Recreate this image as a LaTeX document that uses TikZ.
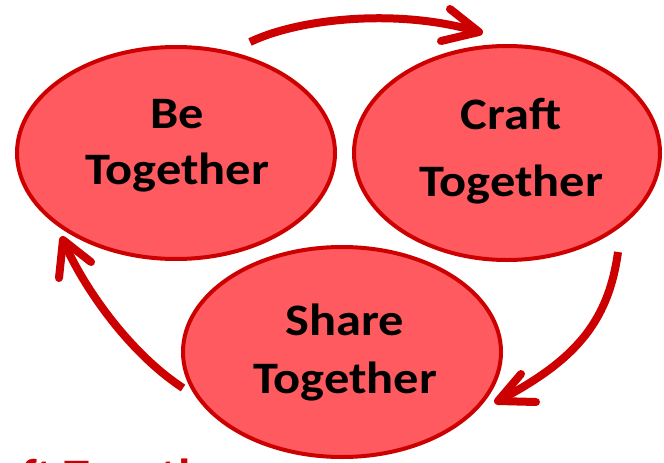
\documentclass[tikz,border=0pt]{standalone}
\usepackage{fontspec}
\setmainfont{Carlito}
\usetikzlibrary{shapes.geometric}
\definecolor{darkred}{HTML}{CC0000}
\definecolor{pinkred}{HTML}{FF5A5F}
\tikzset{
  blob/.style={ellipse, draw=darkred, fill=pinkred, line width=4pt, inner sep=0pt},
  lbl/.style={anchor=base, font=\bfseries\fontsize{45}{45}\selectfont, text=black, inner sep=0pt, xscale=1.12, transform shape},
  flow/.style={draw=darkred, line width=8pt},
  chev/.style={draw=darkred, line width=8pt, line cap=round, line join=round},
}
\begin{document}
\begin{tikzpicture}[x=1pt, y=-1pt]
\useasboundingbox (0,0) rectangle (664,463);
\clip (0,0) rectangle (664,463);
\fill[white] (0,0) rectangle (664,463);
% ellipses
\node[blob, minimum width=318pt, minimum height=212pt] (be) at (176,153) {};
\node[blob, minimum width=306pt, minimum height=214pt] (craft) at (507,153) {};
\node[blob, minimum width=318pt, minimum height=210pt] (share) at (342,352) {};
% labels
\node[lbl] (be1) at (177,128) {Be};
\node[lbl] (be2) at (177,184) {Together};
\node[lbl] (cr1) at (511,129) {Craft};
\node[lbl] (cr2) at (511,196) {Together};
\node[lbl] (sh1) at (345,335) {Share};
\node[lbl] (sh2) at (345,393) {Together};
% arrow coordinates
\coordinate (a1s) at (250,42);
\coordinate (a1e) at (479,32);
\coordinate (a1b) at (450,9);
\coordinate (a1c) at (441,41);
\coordinate (a2s) at (618,252);
\coordinate (a2e) at (498,401);
\coordinate (a2b) at (521,374);
\coordinate (a2c) at (536,402);
\coordinate (a3s) at (183,388);
\coordinate (a3e) at (63,240);
\coordinate (a3b) at (59,278);
\coordinate (a3c) at (91,262);
\draw[flow] (a1s) .. controls (300,18) and (400,8) .. (a1e);
\draw[chev] (a1b) -- (a1e) -- (a1c);
\draw[flow] (a2s) .. controls (608,325) and (572,362) .. (a2e);
\draw[chev] (a2b) -- (a2e) -- (a2c);
\draw[flow] (a3s) .. controls (128,352) and (82,285) .. (a3e);
\draw[chev] (a3b) -- (a3e) -- (a3c);
% clipped caption
\node[anchor=base west, font=\bfseries\fontsize{45}{45}\selectfont, text=darkred, inner sep=0pt, xscale=1.12, transform shape] (cap) at (21,490) {\llap{Cra}ft Together};
\end{tikzpicture}
\end{document}
